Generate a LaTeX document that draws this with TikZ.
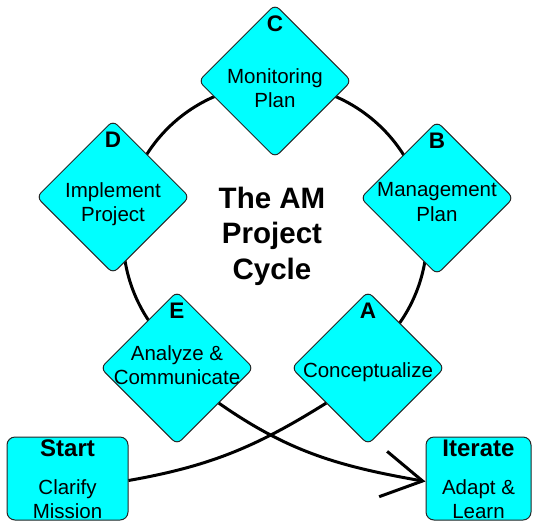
\documentclass[tikz,border=0pt]{standalone}
\usepackage{fontspec}
\setmainfont{Liberation Sans}
\usetikzlibrary{shapes.geometric,arrows.meta}
\definecolor{amcyan}{HTML}{00FFFF}
\begin{document}
\begin{tikzpicture}[x=1pt,y=1pt,
  phase/.style={diamond, aspect=1, draw=black!85, line width=1pt, fill=amcyan,
    minimum width=153pt, minimum height=153pt, inner sep=0pt, rounded corners=6pt},
  endbox/.style={rectangle, draw=black!85, line width=1pt, fill=amcyan,
    rounded corners=8pt, minimum height=83pt, inner sep=0pt},
  letter/.style={font=\fontsize{22.5}{26}\selectfont\bfseries, inner sep=0pt},
  boxhead/.style={font=\fontsize{24}{28}\selectfont\bfseries, inner sep=0pt},
  phasetext/.style={font=\fontsize{20.5}{24.5}\selectfont, align=center, inner sep=0pt},
  link/.style={line width=3pt, black},
]
\useasboundingbox (0,0) rectangle (537,-522);
\coordinate (hub) at (275,-236);
\draw[link] (hub) ++(-38:152) arc[start angle=-38, end angle=218, radius=152pt];

\node[phase] (C) at (275,-81) {};
\node[phase] (B) at (437,-198) {};
\node[phase] (A) at (368,-368) {};
\node[phase] (E) at (177,-368) {};
\node[phase] (D) at (113,-197) {};

\node[letter] (Cl) at ([yshift=57pt]C.center) {C};
\node[letter] (Bl) at ([yshift=57pt]B.center) {B};
\node[letter] (Al) at ([yshift=57pt]A.center) {A};
\node[letter] (El) at ([yshift=57pt]E.center) {E};
\node[letter] (Dl) at ([yshift=57pt]D.center) {D};

\node[phasetext] (Ct) at ([yshift=-7pt]C.center) {Monitoring\\Plan};
\node[phasetext] (Bt) at ([yshift=-4pt]B.center) {Management\\Plan};
\node[phasetext] (At) at ([yshift=-4pt]A.center) {Conceptualize};
\node[phasetext] (Et) at ([yshift=3pt]E.center) {Analyze \&\\Communicate};
\node[phasetext] (Dt) at ([yshift=-7pt]D.center) {Implement\\Project};

\node[font=\fontsize{29.5}{35.5}\selectfont\bfseries, align=center, inner sep=0pt]
  (title) at (272,-236) {The AM\\Project\\Cycle};

\node[endbox, minimum width=121pt] (start) at (67.5,-478.5) {};
\node[endbox, minimum width=105pt] (iter) at (478.5,-478.5) {};
\node[boxhead, anchor=base] (st) at ([yshift=22.5pt]start.center) {Start};
\node[boxhead, anchor=base] (it) at ([yshift=22.5pt]iter.center) {Iterate};
\node[phasetext, anchor=north] (stt) at ([yshift=-0.5pt]start.center) {Clarify\\Mission};
\node[phasetext, anchor=north] (itt) at ([yshift=-0.5pt]iter.center) {Adapt \&\\Learn};

\draw[link] ([yshift=-2pt]start.east) to[out=10, in=212] (A.220);
\draw[link, -{Straight Barb[length=40pt,width=46pt]}] (E.-40) to[out=-35, in=170] ([yshift=-3pt]iter.west);
\end{tikzpicture}
\end{document}
